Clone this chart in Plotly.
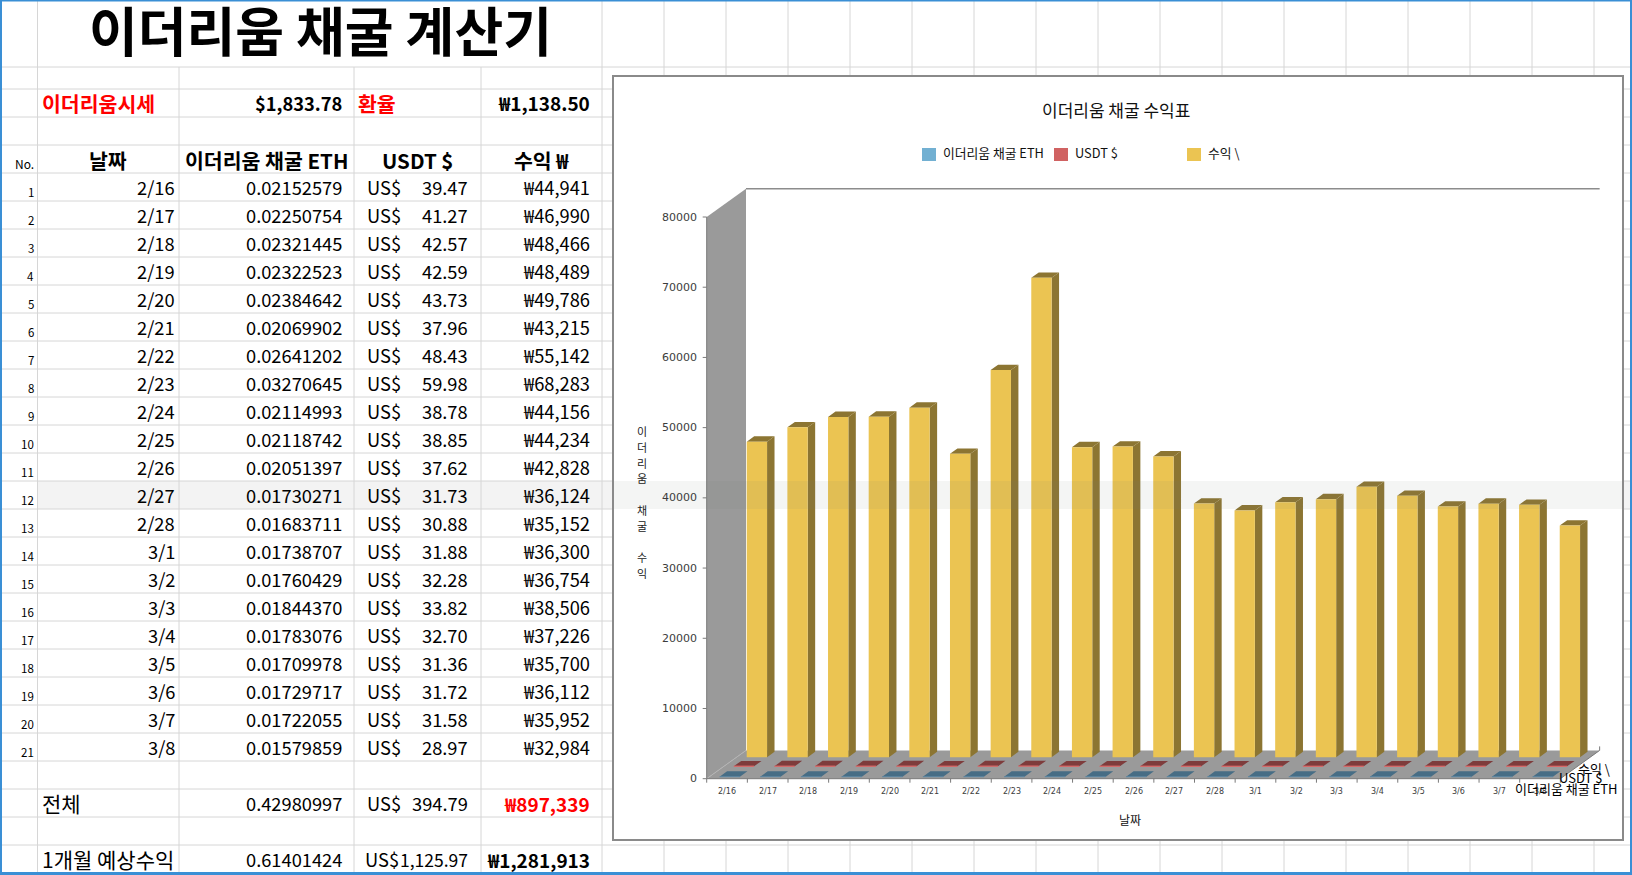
import plotly.graph_objects as go

# ---------------- data ----------------
dates = ["2/16", "2/17", "2/18", "2/19", "2/20", "2/21", "2/22", "2/23", "2/24", "2/25", "2/26",
         "2/27", "2/28", "3/1", "3/2", "3/3", "3/4", "3/5", "3/6", "3/7", "3/8"]
eth_mined = [0.02152579, 0.02250754, 0.02321445, 0.02322523, 0.02384642, 0.02069902, 0.02641202,
             0.03270645, 0.02114993, 0.02118742, 0.02051397, 0.01730271, 0.01683711, 0.01738707,
             0.01760429, 0.01844370, 0.01783076, 0.01709978, 0.01729717, 0.01722055, 0.01579859]
usdt_value = [39.47, 41.27, 42.57, 42.59, 43.73, 37.96, 48.43, 59.98, 38.78, 38.85, 37.62,
              31.73, 30.88, 31.88, 32.28, 33.82, 32.70, 31.36, 31.72, 31.58, 28.97]
krw_income = [44941, 46990, 48466, 48489, 49786, 43215, 55142, 68283, 44156, 44234, 42828,
              36124, 35152, 36300, 36754, 38506, 37226, 35700, 36112, 35952, 32984]
eth_price_usd = 1833.78
usd_krw_rate = 1138.50
total_eth, total_usdt, total_krw = 0.42980997, 394.79, 897339
month_eth, month_usdt, month_krw = 0.61401424, 1125.97, 1281913
header_labels = ["날짜", "이더리움 채굴 ETH", "USDT $", "수익 ₩"]
series_names = ["이더리움 채굴 ETH", "USDT $", "수익 \\"]
y_tick_values = [0, 10000, 20000, 30000, 40000, 50000, 60000, 70000, 80000]
y_axis_title = "이더리움 채굴 수익"
x_axis_title = "날짜"
chart_title = "이더리움 채굴 수익표"
sheet_title = "이더리움 채굴 계산기"

# ---------------- page geometry ----------------
W, H = 1632, 875
KFONT = "Noto Sans CJK KR"
CFONT = "DejaVu Sans"


def PX(x):
    return x / W


def PY(y):
    return 1 - y / H


shapes = []
annotations = []


def line(x0, y0, x1, y1, color="#d6d6d6", width=1, layer="below"):
    shapes.append(dict(type="line", xref="paper", yref="paper", x0=PX(x0), y0=PY(y0),
                       x1=PX(x1), y1=PY(y1), line=dict(color=color, width=width), layer=layer))


def rect(x0, y0, x1, y1, fill, linecolor=None, lw=0, layer="below"):
    shapes.append(dict(type="rect", xref="paper", yref="paper", x0=PX(x0), y0=PY(y0),
                       x1=PX(x1), y1=PY(y1), fillcolor=fill,
                       line=dict(color=linecolor or fill, width=lw), layer=layer))


def text(x, y, s, size=18, color="#000000", anchor="left", bold=False, family=KFONT):
    annotations.append(dict(xref="paper", yref="paper", x=PX(x), y=PY(y),
                            text=f"<b>{s}</b>" if bold else s, showarrow=False,
                            xanchor=anchor, yanchor="middle",
                            font=dict(size=size, color=color, family=family)))


# ---------------- spreadsheet ----------------
col_x = [37.5, 179, 354, 481, 602]
right_cols = [664 + 62 * k for k in range(16)]
row_y = [67, 89, 117, 145] + [173 + 28 * k for k in range(22)] + [789, 817, 845]
band_row = 11  # highlighted row (2/27)
band_y0, band_y1 = 173 + 28 * band_row, 173 + 28 * (band_row + 1)

rect(37.5, band_y0, W, band_y1, "#f3f3f3")
for yv in row_y:
    line(0, yv, W, yv)
for xv in col_x:
    top = 0 if xv in (37.5, 602) else 67
    line(xv, top, xv, H)
for xv in right_cols:
    line(xv, 0, xv, H)

NUM = 18.3   # numeric cell font size
KOR = 20.5   # Korean label font size

# title
text(320, 29, sheet_title, size=53, anchor="center", bold=True)
# price row
text(40, 103, "이더리움시세", KOR, "#ff0000", "left", True)
text(344, 103, f"${eth_price_usd:,.2f}", NUM, "#000000", "right", True)
text(356, 103, "환율", KOR, "#ff0000", "left", True)
text(591.5, 103, f"₩{usd_krw_rate:,.2f}", 19, "#000000", "right", True)
# header
text(24, 163, "No.", 12, anchor="center")
for lab, c0, c1 in zip(header_labels, col_x[:-1], col_x[1:]):
    text((c0 + c1) / 2, 160, lab, KOR, anchor="center", bold=True)
# data rows
for i in range(len(dates)):
    yc = 187 + 28 * i
    text(35.5, yc + 5, str(i + 1), 11.5, anchor="right")
    text(177, yc, dates[i], NUM, anchor="right")
    text(344, yc, f"{eth_mined[i]:.8f}", NUM, anchor="right")
    text(365, yc, "US$", NUM, anchor="left")
    text(470, yc, f"{usdt_value[i]:,.2f}", NUM, anchor="right")
    text(591.5, yc, f"₩{krw_income[i]:,}", NUM, anchor="right")
# totals
text(40, 803, "전체", 21)
text(344, 803, f"{total_eth:.8f}", NUM, anchor="right")
text(365, 803, "US$", NUM)
text(470, 803, f"{total_usdt:,.2f}", NUM, anchor="right")
text(591.5, 803, f"₩{total_krw:,}", 19, "#ff0000", "right", True)
text(40, 859, "1개월 예상수익", 21)
text(344, 859, f"{month_eth:.8f}", NUM, anchor="right")
text(363, 859, "US$", NUM)
text(470, 859, f"{month_usdt:,.2f}", 17.5, anchor="right")
text(591.5, 859, f"₩{month_krw:,}", 19, "#000000", "right", True)

# blue window frame
rect(0, 0, 2, H, "#3a8fd5")
rect(0, 0, W, 1.5, "#3a8fd5")
rect(W - 2, 0, W, H, "#3a8fd5")
rect(0, 872, W, H, "#3a8fd5")

# ---------------- chart box ----------------
BOX = (613, 76, 1623, 840)
rect(BOX[0], BOX[1], BOX[2], BOX[3], "#ffffff", "#8a8a8a", 2)

# front plane mapping of the 3D chart
X0_PX, CAT_PX = 706.7, 40.65          # left boundary of first category, px per category
ZERO_PX, TOP_PX = 778.7, 217.0        # y px of 0 and 80000 on the front plane
VPP = 80000 / (ZERO_PX - TOP_PX)      # value per pixel
xr = [-0.5 + (BOX[0] - X0_PX) / CAT_PX, -0.5 + (BOX[2] - X0_PX) / CAT_PX]
yr = [(ZERO_PX - BOX[3]) * VPP, (ZERO_PX - BOX[1]) * VPP]
DX, DY = 39.3 / CAT_PX, 28.3 * VPP    # depth offset in data units
N = len(dates)
XL, XR = -0.5, N - 0.5
YMAX = y_tick_values[-1]

traces = []


def poly_trace(xs, ys, fill, lw=0, lc=None):
    traces.append(go.Scatter(x=xs, y=ys, mode="lines", fill="toself", fillcolor=fill,
                             line=dict(width=lw, color=lc or fill), hoverinfo="skip"))


def line_trace(xs, ys, color, width=1):
    traces.append(go.Scatter(x=xs, y=ys, mode="lines", line=dict(color=color, width=width),
                             hoverinfo="skip"))


# floor and side wall
poly_trace([XL, XR, XR + DX, XL + DX, XL], [0, 0, DY, DY, 0], "#9a9a9a")
poly_trace([XL, XL, XL + DX, XL + DX, XL], [0, YMAX, YMAX + DY, DY, 0], "#9a9a9a")
line_trace([XL, XL + DX], [0, DY], "#b4b4b4", 1)
line_trace([XL + DX, XR + DX], [YMAX + DY, YMAX + DY], "#8c8c8c", 1.5)
line_trace([XR, XR + DX, XR + DX], [0, DY, DY + 4 * VPP], "#7a7a7a", 1)
line_trace([XL, XL, XR], [YMAX, 0, 0], "#7a7a7a", 1)

# axis tick marks
tx, ty = [], []
for k in range(N + 1):
    tx += [XL + k, XL + k, None]
    ty += [0, -4 * VPP, None]
for v in y_tick_values:
    tx += [XL, XL - 4 / CAT_PX, None]
    ty += [v, v, None]
line_trace(tx, ty, "#7a7a7a", 1)


def bar_faces(values, f, d, w):
    front, top, side = ([], []), ([], []), ([], [])
    edge = ([], [])
    for i, v in enumerate(values):
        xa, xb = i - w / 2 + f * DX, i + w / 2 + f * DX
        ya = f * DY
        ex, ey = d * DX, d * DY
        for tgt, px_, py_ in ((front, [xa, xb, xb, xa, xa], [ya, ya, ya + v, ya + v, ya]),
                              (top, [xa, xb, xb + ex, xa + ex, xa],
                               [ya + v, ya + v, ya + v + ey, ya + v + ey, ya + v]),
                              (side, [xb, xb + ex, xb + ex, xb, xb],
                               [ya, ya + ey, ya + v + ey, ya + v, ya])):
            tgt[0].extend(px_ + [None])
            tgt[1].extend(py_ + [None])
        edge[0].extend([xa, xb, None])
        edge[1].extend([ya + v, ya + v, None])
    return front, top, side, edge


ROW_F = [0.07, 0.43, 0.76]
BAR_D, BAR_W = 0.19, 0.5

# back row: income (yellow)
fr, tp, sd, ed = bar_faces(krw_income, ROW_F[2], BAR_D, BAR_W)
poly_trace(*sd, "#8c7532")
poly_trace(*tp, "#8c7532")
poly_trace(*fr, "#ebc452")
# middle row: USDT (red)
fr, tp, sd, ed = bar_faces(usdt_value, ROW_F[1], BAR_D, BAR_W)
poly_trace(*tp, "#7e3c3c")
line_trace(*ed, "#d86a6a", 1.3)
# front row: ETH (blue)
fr, tp, sd, ed = bar_faces(eth_mined, ROW_F[0], BAR_D, BAR_W)
poly_trace(*tp, "#476d85")
line_trace(*ed, "#5b87a3", 1)

# tick labels
for v in y_tick_values:
    annotations.append(dict(xref="x", yref="y", x=XL, y=v, text=str(v), showarrow=False,
                            xanchor="right", yanchor="middle", xshift=-8,
                            font=dict(size=11, color="#3c3c3c", family=CFONT)))
for i, d in enumerate(dates):
    annotations.append(dict(xref="x", yref="y", x=i, y=0, text=d, showarrow=False,
                            xanchor="center", yanchor="middle", yshift=-12.5,
                            font=dict(size=8, color="#3c3c3c", family=CFONT)))
# depth (series) labels
for name, f in zip(series_names, ROW_F):
    fm = f + BAR_D / 2
    annotations.append(dict(xref="x", yref="y", x=XR + fm * DX, y=fm * DY, text=name,
                            showarrow=False, xanchor="center", yanchor="middle", yshift=-14,
                            font=dict(size=13, color="#000000", family=KFONT)))

# chart title, legend, axis titles
text(1116, 110, chart_title, 17, "#111111", "center")
legend_colors = ["#72b0d2", "#d06262", "#ebc452"]
legend_sq_x = [922, 1054, 1187]
for name, col, lx in zip(series_names, legend_colors, legend_sq_x):
    rect(lx, 148, lx + 14, 161, col, layer="above")
    text(lx + 19, 153, name, 12.8, "#111111", "left")
text(1130, 819, x_axis_title, 12, "#111111", "center")
k = 0
for ch in y_axis_title:
    if ch != " ":
        text(642, 431.4 + 15.7 * k, ch, 11, "#222222", "center")
    k += 1

# highlighted spreadsheet row showing through the chart
rect(BOX[0] + 1, band_y0, BOX[2] - 1, band_y1, "rgba(110,125,110,0.08)", layer="above")

fig = go.Figure(data=traces)
fig.update_layout(
    width=W, height=H, margin=dict(l=0, r=0, t=0, b=0),
    paper_bgcolor="white", plot_bgcolor="rgba(0,0,0,0)", showlegend=False,
    xaxis=dict(domain=[PX(BOX[0]), PX(BOX[2])], range=xr, visible=False, fixedrange=True),
    yaxis=dict(domain=[PY(BOX[3]), PY(BOX[1])], range=yr, visible=False, fixedrange=True),
    shapes=shapes, annotations=annotations,
)
fig.write_html("out.html", config={"displayModeBar": False},
               post_script="document.body.style.margin='0';document.body.style.overflow='hidden';")
